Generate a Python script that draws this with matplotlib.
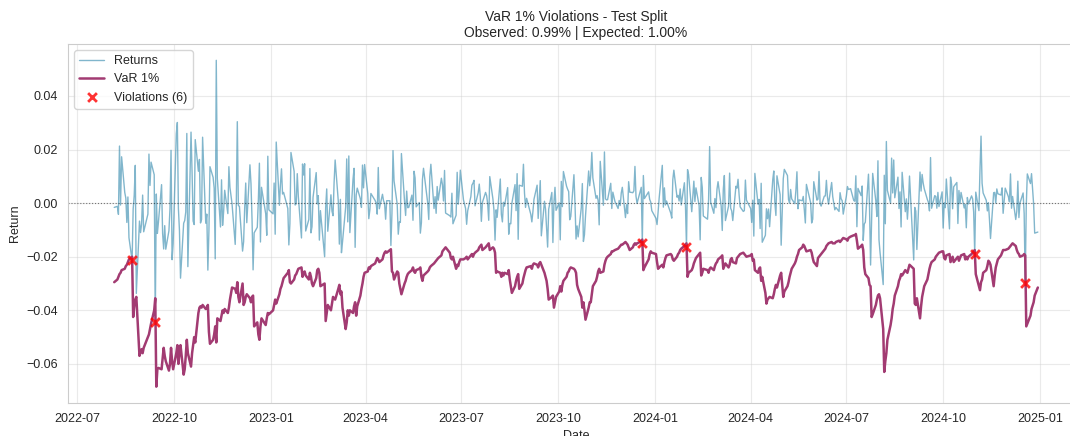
import numpy as np
import pandas as pd
import matplotlib
matplotlib.use("Agg")
import matplotlib.pyplot as plt
import matplotlib.dates as mdates
import seaborn as sns

# trading calendar of the test split (NYSE holidays are skipped)
start_date = "2022-08-05"
nyse_holidays = [
    "2022-09-05", "2022-11-24", "2022-12-26",
    "2023-01-02", "2023-01-16", "2023-02-20", "2023-04-07", "2023-05-29",
    "2023-06-19", "2023-07-04", "2023-09-04", "2023-11-23", "2023-12-25",
    "2024-01-01", "2024-01-15", "2024-02-19", "2024-03-29", "2024-05-27",
    "2024-06-19", "2024-07-04", "2024-09-02", "2024-11-28", "2024-12-25",
]

# daily returns in %, one row per month
returns_pct = [
    -0.16, -0.12, -0.42, 2.13, -0.07, 1.73, 0.40, 0.19, -0.72, 0.23, -1.29, -2.14, -0.22, 0.29, 1.41, -3.37, -0.67, -1.10, -0.78,  # 2022-08
    0.30, -1.07, -0.41, 1.83, 0.66, 1.53, 1.06, -4.42, 0.34, -1.13, -0.72, 0.69, -1.13, -1.71, -0.84, -1.72, -1.03, -0.21, 1.97, -2.11, -1.51,  # 2022-09
    2.59, 3.01, -0.20, -1.02, -2.80, -0.75, -0.65, -0.33, 2.60, -2.37, 2.65, 1.14, -0.67, -0.80, 2.37, 1.19, 1.63, -0.74, -0.61, 2.46, -0.75,  # 2022-10
    -0.41, -2.50, -1.06, 1.36, 0.96, 0.56, -2.08, 5.33, 0.92, -0.89, 0.87, -0.83, -0.31, 0.48, -0.39, 1.36, 0.59, -0.03, -1.54, -0.16, 3.04,  # 2022-11
    -0.09, -0.12, -1.79, -1.44, -0.19, 0.75, -0.73, 1.43, 0.73, -0.61, -2.49, -1.11, -0.90, 0.10, 1.49, -1.45, 0.59, -0.40, -1.20, 1.75, -0.25,  # 2022-12
    -0.40, 0.75, -1.16, 2.28, -0.08, 0.70, 1.28, 0.34, 0.40, -0.20, -1.56, -0.76, 1.89, 1.19, -0.07, -0.02, 1.10, 0.25, -1.30, 1.46,  # 2023-01
    1.05, 1.47, -1.04, -0.61, 1.29, -1.11, -0.88, 0.22, 1.14, -0.03, 0.28, -1.38, -0.28, -2.00, -0.16, 0.53, -1.05, 0.31, -0.30,  # 2023-02
    -0.47, 0.76, 1.61, 0.07, -1.53, 0.14, -1.85, -1.45, -0.15, 1.65, -0.70, 1.76, -1.10, 0.89, 1.30, -1.65, 0.30, 0.56, 0.16, -0.16, 1.42, 0.57, 1.44,  # 2023-03
    0.37, -0.58, -0.25, 0.36, 0.10, -0.00, -0.41, 1.33, -0.21, 0.33, 0.09, -0.01, -0.60, 0.09, 0.09, -1.58, -0.38, 1.96, 0.83,  # 2023-04
    -0.04, -1.16, -0.70, -0.72, 1.85, 0.05, -0.46, 0.45, -0.17, -0.16, 0.30, -0.64, 1.19, 0.94, -0.14, 0.02, -1.12, -0.73, 0.88, 1.30, 0.00, -0.61,  # 2023-05
    0.99, 1.45, -0.20, 0.24, -0.38, 0.62, 0.11, 0.93, 0.69, 0.08, 1.22, -0.37, -0.47, -0.52, 0.37, -0.77, -0.45, 1.15, -0.04, 0.45, 1.23,  # 2023-06
    0.12, -0.20, -0.79, -0.29, 0.24, 0.67, 0.74, 0.85, -0.10, 0.39, 0.71, 0.24, -0.68, 0.03, 0.40, 0.28, -0.02, -0.64, 0.99, 0.15,  # 2023-07
    -0.27, -1.38, -0.25, -0.53, 0.90, -0.42, -0.70, 0.03, -0.11, 0.58, -1.16, -0.76, -0.77, -0.01, 0.69, -0.28, 1.10, -1.35, 0.67, 0.63, 1.45, 0.38, -0.16,  # 2023-08
    0.18, -0.42, -0.70, -0.32, 0.14, 0.67, -0.57, 0.12, 0.84, -1.22, 0.07, -0.22, -0.94, -1.64, -0.23, 0.40, -1.47, 0.02, 0.59, -0.27,  # 2023-09
    0.01, -1.37, 0.81, -0.13, 1.18, 0.63, 0.52, 0.43, -0.62, -0.50, 1.06, -0.01, -1.34, -0.85, -1.26, -0.17, 0.73, -1.43, -1.18, -0.48, 1.20, 0.65,  # 2023-10
    1.05, 1.89, 0.94, 0.18, 0.28, 0.10, -0.81, 1.56, -0.08, 1.91, 0.16, 0.12, 0.13, 0.74, -0.20, 0.41, 0.06, -0.20, 0.10, -0.09, 0.38,  # 2023-11
    0.59, -0.54, -0.06, -0.39, 0.80, 0.41, 0.39, 0.46, 1.37, 0.26, -0.01, 0.45, 0.59, -1.48, 1.03, 0.17, 0.42, 0.14, 0.04, -0.28,  # 2023-12
    -0.57, -0.80, -0.34, 0.18, 1.41, -0.15, 0.57, -0.07, 0.08, -0.37, -0.56, 0.88, 1.23, 0.22, 0.29, 0.08, 0.53, -0.07, 0.76, -0.06, -1.63,  # 2024-01
    1.25, 1.07, -0.32, 0.23, 0.82, 0.06, 0.57, -0.09, -1.37, 0.96, 0.58, -0.48, -0.60, 0.13, 2.11, 0.03, -0.38, 0.17, -0.17, 0.52,  # 2024-02
    0.80, -0.12, -1.02, 0.51, 1.03, -0.65, -0.11, 1.12, -0.19, -0.29, -0.65, 0.63, 0.56, 0.89, 0.32, -0.14, -0.31, -0.28, 0.86, 0.11,  # 2024-03
    -0.20, -0.72, 0.11, -1.23, 1.11, -0.04, 0.14, -0.95, 0.74, -1.46, -1.20, -0.21, -0.58, -0.22, -0.88, 0.87, 1.20, 0.02, -0.46, 1.02, 0.32, -1.57,  # 2024-04
    -0.34, 0.91, 1.26, 1.03, 0.13, -0.00, 0.51, 0.16, -0.02, 0.48, 1.17, -0.21, 0.12, 0.09, 0.25, -0.27, -0.74, 0.70, 0.02, -0.74, -0.60, 0.80,  # 2024-05
    0.11, 0.15, 1.18, -0.02, -0.11, 0.26, 0.27, 0.85, 0.23, -0.04, 0.77, 0.25, -0.25, -0.16, -0.31, 0.39, 0.16, 0.09, -0.41,  # 2024-06
    0.27, 0.62, 0.51, 0.54, 0.10, 0.07, 1.02, -0.88, 0.55, 0.28, 0.64, -1.39, -0.78, -0.71, 1.08, -0.16, -2.31, -0.51, 1.11, 0.08, -0.50, 1.58,  # 2024-07
    -1.37, -1.84, -3.04, 1.04, -0.77, 2.30, 0.47, 0.00, 1.68, 0.38, 1.61, 0.20, 0.97, -0.20, 0.42, -0.89, 1.15, -0.32, 0.16, -0.60, 0.00, 1.01,  # 2024-08
    -2.12, -0.16, -0.30, -1.73, 1.16, 0.45, 1.07, 0.75, 0.54, 0.13, 0.03, -0.29, 1.70, -0.19, 0.28, 0.25, -0.19, 0.40, -0.13, 0.42,  # 2024-09
    -0.93, 0.01, -0.17, 0.90, -0.96, 0.97, 0.71, -0.21, 0.61, 0.77, -0.76, 0.47, -0.02, 0.40, -0.18, -0.05, -0.92, 0.21, -0.03, 0.27, 0.16, -0.33, -1.88,  # 2024-10
    0.41, -0.28, 1.23, 2.50, 0.74, 0.38, 0.10, -0.29, 0.02, -0.60, -1.32, 0.39, 0.40, 0.00, 0.53, 0.35, 0.30, 0.57, -0.38, 0.56,  # 2024-11
    0.24, 0.05, 1.09, -0.19, 0.25, -0.61, -0.30, 0.82, -0.54, 0.00, 0.38, -0.39, -2.99, -0.09, 1.09, 0.73, 1.10, -0.04, -1.12, -1.08,  # 2024-12
]

# 1% VaR forecast in %, same days
var_pct = [
    -2.95, -2.85, -2.75, -2.65, -2.6, -2.5, -2.45, -2.35, -2.3, -2.2, -2.1, -2.0, -4.25, -3.85, -3.6, -3.5, -5.7, -5.55, -5.45,  # 2022-08
    -5.6, -5.4, -5.0, -4.9, -4.7, -4.5, -4.0, -3.55, -6.85, -6.2, -6.15, -6.2, -5.8, -5.4, -5.7, -5.9, -6.25, -6.0, -5.4, -5.9, -6.2,  # 2022-09
    -5.6, -5.3, -6.0, -5.6, -5.3, -6.4, -6.2, -5.7, -5.1, -5.6, -6.1, -5.6, -5.3, -5.0, -5.2, -4.1, -3.9, -3.85, -3.9, -3.8, -3.95,  # 2022-10
    -3.9, -3.8, -4.8, -5.25, -5.1, -4.9, -4.6, -5.2, -4.3, -4.4, -4.2, -4.0, -4.1, -3.95, -4.1, -3.9, -3.6, -3.15, -3.2, -3.35, -2.95,  # 2022-11
    -3.5, -3.7, -3.0, -3.8, -3.7, -3.5, -3.4, -3.55, -3.7, -3.5, -3.45, -4.6, -4.45, -4.9, -5.1, -4.6, -4.3, -4.55, -4.3, -4.1, -4.15,  # 2022-12
    -4.0, -3.8, -3.6, -3.75, -3.4, -3.2, -3.1, -2.95, -2.8, -2.6, -2.5, -2.95, -3.0, -2.85, -2.7, -2.65, -2.55, -2.45, -2.4, -2.75,  # 2023-01
    -2.6, -2.55, -2.7, -2.85, -2.6, -2.75, -3.0, -3.1, -2.8, -2.5, -2.45, -2.6, -3.1, -3.0, -4.4, -4.1, -3.8, -4.0, -3.75,  # 2023-02
    -3.5, -3.55, -3.6, -3.2, -3.05, -3.4, -3.3, -3.9, -4.7, -4.45, -4.0, -4.2, -4.0, -4.1, -3.85, -3.7, -4.2, -3.85, -3.45, -3.2, -3.0, -2.75, -2.6,  # 2023-03
    -2.55, -2.4, -2.45, -2.35, -2.25, -2.15, -2.05, -2.1, -2.2, -2.1, -1.95, -1.85, -1.8, -1.85, -1.75, -1.72, -2.55, -2.6, -2.85,  # 2023-04
    -2.55, -2.6, -3.0, -3.2, -3.4, -3.0, -2.9, -2.75, -2.65, -2.6, -2.5, -2.4, -2.55, -2.6, -2.5, -2.45, -2.4, -2.75, -2.9, -2.7, -2.55, -2.5,  # 2023-05
    -2.4, -2.35, -2.25, -2.2, -2.15, -2.1, -2.05, -1.95, -1.8, -1.75, -1.7, -1.65, -1.85, -2.05, -2.1, -2.0, -2.45, -2.3, -2.35, -2.2, -2.1,  # 2023-06
    -2.1, -2.05, -2.0, -2.1, -1.95, -1.9, -2.0, -1.9, -1.85, -1.75, -1.65, -1.6, -1.55, -1.75, -1.65, -1.6, -1.55, -1.5, -1.75, -1.65,  # 2023-07
    -1.7, -1.85, -2.6, -2.55, -2.6, -2.75, -2.6, -2.7, -2.6, -2.65, -2.5, -2.85, -3.1, -3.35, -3.1, -2.9, -2.75, -2.65, -3.2, -3.0, -2.8, -2.65, -2.5,  # 2023-08
    -2.4, -2.35, -2.45, -2.3, -2.25, -2.3, -2.4, -2.25, -2.2, -2.3, -2.6, -2.75, -2.9, -3.2, -3.6, -3.5, -3.45, -3.9, -3.7, -3.5,  # 2023-09
    -3.3, -3.1, -3.3, -3.05, -2.9, -2.75, -2.6, -2.55, -2.45, -2.4, -2.45, -2.5, -2.6, -3.05, -3.2, -3.5, -3.9, -3.7, -4.0, -4.35, -3.9, -3.7,  # 2023-10
    -3.7, -3.4, -3.1, -2.9, -2.75, -2.55, -2.45, -2.6, -2.55, -2.3, -2.15, -2.05, -2.0, -1.9, -1.8, -1.8, -1.75, -1.7, -1.65, -1.6, -1.55,  # 2023-11
    -1.55, -1.45, -1.5, -1.55, -1.65, -1.75, -1.65, -1.55, -1.5, -1.55, -1.5, -1.45, -1.4, -1.36, -2.5, -2.4, -2.1, -1.9, -1.8, -1.85,  # 2023-12
    -1.9, -2.2, -2.45, -2.4, -2.3, -2.4, -2.2, -2.05, -1.95, -1.9, -1.95, -2.1, -2.15, -2.0, -1.9, -1.85, -1.75, -1.7, -1.6, -1.55, -1.5,  # 2024-01
    -2.75, -2.6, -2.5, -2.4, -2.25, -2.15, -2.05, -1.9, -1.85, -2.7, -2.6, -2.45, -2.5, -2.6, -2.45, -2.4, -2.5, -2.35, -2.25, -2.2,  # 2024-02
    -2.1, -2.0, -1.95, -2.45, -2.35, -2.25, -2.4, -2.3, -2.1, -2.05, -2.2, -2.25, -2.05, -2.0, -1.95, -1.9, -1.85, -1.9, -1.95, -2.0,  # 2024-03
    -1.95, -1.9, -2.15, -2.1, -2.5, -2.6, -2.45, -2.4, -2.9, -2.75, -3.35, -3.75, -3.6, -3.55, -3.5, -3.55, -3.4, -3.2, -3.05, -3.15, -2.7, -2.6,  # 2024-04
    -3.05, -3.5, -3.3, -3.1, -2.95, -2.75, -2.6, -2.45, -2.25, -2.15, -2.0, -1.9, -1.75, -1.65, -1.55, -1.6, -1.7, -1.8, -1.75, -1.85, -2.05, -2.2,  # 2024-05
    -2.35, -2.05, -2.0, -1.95, -1.9, -1.75, -1.7, -1.6, -1.55, -1.5, -1.45, -1.5, -1.5, -1.45, -1.4, -1.45, -1.4, -1.35, -1.3,  # 2024-06
    -1.35, -1.4, -1.3, -1.25, -1.2, -1.2, -1.15, -1.4, -1.7, -1.6, -1.55, -1.75, -2.4, -2.65, -2.8, -3.05, -3.1, -4.25, -4.15, -3.8, -3.6, -3.45,  # 2024-07
    -3.4, -3.55, -4.7, -6.3, -5.9, -5.6, -5.1, -4.55, -4.3, -3.95, -3.75, -3.45, -3.1, -2.9, -2.8, -2.65, -2.7, -2.5, -2.55, -2.6, -2.45, -2.3,  # 2024-08
    -2.45, -3.75, -3.8, -3.55, -4.3, -3.85, -3.5, -3.3, -3.1, -2.85, -2.65, -2.45, -2.3, -2.2, -2.1, -2.0, -1.95, -1.9, -1.85, -1.8,  # 2024-09
    -1.8, -2.05, -2.1, -1.95, -1.9, -2.2, -2.1, -2.0, -2.2, -2.05, -2.0, -2.15, -2.05, -1.95, -1.9, -2.1, -2.0, -2.1, -2.0, -1.9, -1.85, -1.8, -1.75,  # 2024-10
    -2.65, -3.1, -3.25, -2.95, -2.85, -2.6, -2.5, -2.35, -2.15, -2.2, -2.3, -3.1, -2.7, -2.4, -2.25, -2.1, -1.95, -1.85, -1.75, -1.75,  # 2024-11
    -1.7, -1.65, -1.6, -1.55, -1.5, -1.6, -1.75, -1.85, -1.9, -2.0, -1.95, -1.9, -1.95, -4.6, -4.5, -4.2, -3.95, -3.7, -3.45, -3.15,  # 2024-12
]

alpha_level = 0.01

n = min(len(returns_pct), len(var_pct))
dates = pd.bdate_range(start_date, periods=n, freq="C", holidays=nyse_holidays)
returns = pd.Series(np.array(returns_pct[:n]) / 100, index=dates)
var_1 = pd.Series(np.array(var_pct[:n]) / 100, index=dates)

violations = returns < var_1
observed = violations.mean() * 100

sns.set_style("whitegrid")
plt.rcParams["font.family"] = ["Liberation Sans", "DejaVu Sans"]

fig = plt.figure(figsize=(10.7, 4.36), dpi=100)
ax = fig.add_axes([0.0636, 0.0757, 0.9495, 0.8234])

ax.plot(returns.index, returns.values, color="#2E86AB", alpha=0.6, linewidth=1.0, label="Returns")
ax.plot(var_1.index, var_1.values, color="#A23B72", linewidth=1.8, label="VaR 1%")
ax.scatter(returns.index[violations], returns[violations], color="red", marker="x",
           s=40, linewidths=2, alpha=0.8, zorder=5, label=f"Violations ({violations.sum()})")
ax.axhline(0, color="black", linestyle=":", linewidth=0.8, alpha=0.5)

ax.set_title(f"VaR 1% Violations - Test Split\nObserved: {observed:.2f}% | Expected: {alpha_level * 100:.2f}%",
             fontsize=10, color="#262626", pad=5)
ax.set_xlabel("Date", fontsize=9)
ax.set_ylabel("Return", fontsize=9)
ax.tick_params(labelsize=9)
ax.xaxis.set_major_locator(mdates.MonthLocator(bymonth=[1, 4, 7, 10]))
ax.xaxis.set_major_formatter(mdates.DateFormatter("%Y-%m"))
ax.grid(True, alpha=0.4)
ax.legend(loc="upper left", fontsize=9)

fig.savefig("out.png", dpi=100)
